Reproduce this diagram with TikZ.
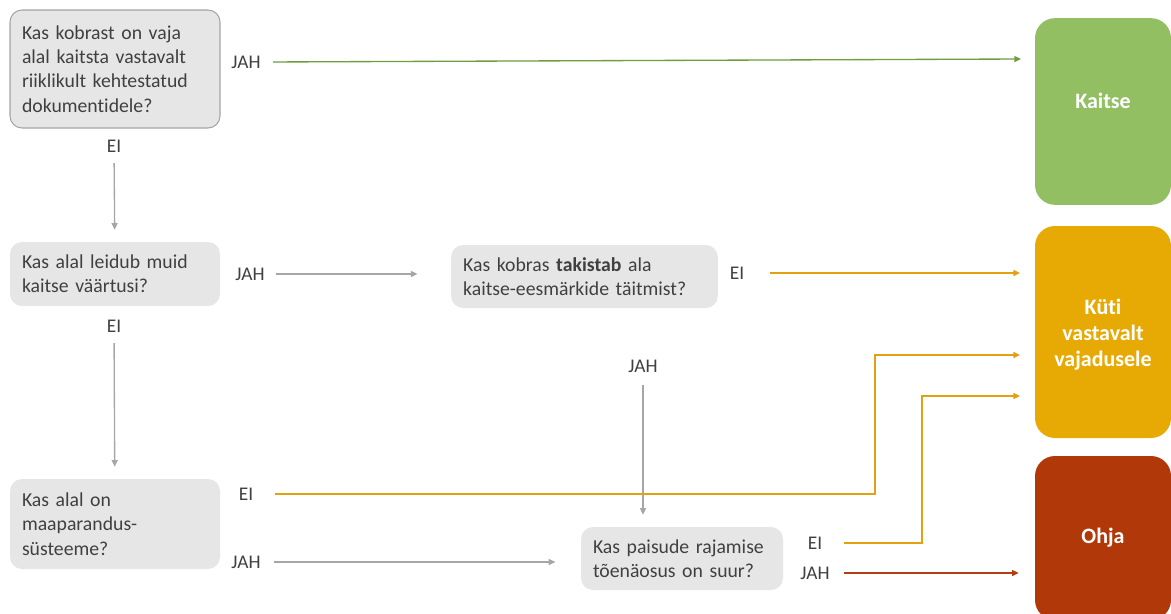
\documentclass[tikz,border=0pt]{standalone}
\usepackage{fontspec}
\setmainfont[Ligatures={NoCommon,NoContextual}]{Carlito}
\usetikzlibrary{positioning,arrows.meta}
\definecolor{qfill}{HTML}{E7E6E6}
\definecolor{qdraw}{HTML}{A5A5A5}
\definecolor{txtgray}{HTML}{404040}
\definecolor{linegray}{HTML}{A6A6A6}
\definecolor{kaitsegreen}{HTML}{93BF63}
\definecolor{linegreen}{HTML}{6F9D3F}
\definecolor{kutiorange}{HTML}{E7A904}
\definecolor{lineorange}{HTML}{E3A010}
\definecolor{ohjared}{HTML}{B13808}
\definecolor{linered}{HTML}{B43E12}
\begin{document}
\begin{tikzpicture}[x=0.75pt,y=-0.75pt,
  question/.style = {fill=qfill, rounded corners=9pt, align=left, inner sep=9pt,
    text=txtgray, font=\fontsize{14.8}{18.3}\selectfont},
  result/.style = {rounded corners=15pt, minimum width=102pt, align=center,
    text=white, font=\fontsize{16.5}{19.5}\selectfont\bfseries},
  answer/.style = {text=txtgray, font=\fontsize{14.5}{16}\selectfont, inner sep=4pt},
  link/.style = {line width=1pt, -{Triangle[length=5pt,width=4.5pt]}},
  graylink/.style = {link, draw=linegray},
  orangelink/.style = {link, draw=lineorange}
]
\useasboundingbox (0,0) rectangle (1171,614);

% kysimused
\node[question, draw=qdraw, line width=0.8pt, text width=139.5pt, minimum height=88.5pt]
  (q1) at (115,69) {Kas kobrast on vaja\\alal kaitsta vastavalt\\riiklikult kehtestatud\\dokumentidele?};
\node[question, text width=139.5pt, minimum height=48pt]
  (q2) at (115,274) {Kas alal leidub muid\\kaitse väärtusi?};
\node[question, text width=182pt, minimum height=47.25pt]
  (q3) at (584.5,276.5) {Kas kobras \textbf{takistab} ala\\kaitse-eesmärkide täitmist?};
\node[question, text width=139.5pt, minimum height=67.5pt]
  (q4) at (115,524) {Kas alal on\\maaparandus-\\süsteeme?};
\node[question, text width=133.5pt, minimum height=47.25pt]
  (q5) at (682,558.5) {Kas paisude rajamise\\tõenäosus on suur?};

% tulemused
\node[result, fill=kaitsegreen, minimum height=140pt] (kaitse) at (1103,111.5)
  {\raisebox{0pt}[\height][\dimexpr\depth+16pt]{Kaitse}};
\node[result, fill=kutiorange, minimum height=159pt] (kuti) at (1103,332)
  {\raisebox{0pt}[\dimexpr\height+4pt][\depth]{Küti}\\vastavalt\\vajadusele};
\node[result, fill=ohjared, minimum height=123pt] (ohja) at (1103,538) {Ohja};

% vastused
\node[answer] (jah1) at (246,62) {JAH};
\node[answer] (ei1) at (114,146) {EI};
\node[answer] (jah2) at (250,274) {JAH};
\node[answer] (ei2) at (114,326) {EI};
\node[answer] (ei3) at (737,273) {EI};
\node[answer] (jah3) at (643,366) {JAH};
\node[answer] (ei4) at (246,494) {EI};
\node[answer] (jah4) at (246,562) {JAH};
\node[answer] (ei5) at (815,543) {EI};
\node[answer] (jah5) at (815,573) {JAH};

\coordinate (kaitseIn) at (1021,59);
\coordinate (bendA) at (875,494);
\coordinate (bendB) at (922,543);

% seosed
\draw[link, draw=linegreen, shorten <=5pt] (jah1.east) -- (kaitseIn);
\draw[graylink, shorten <=4pt, shorten >=9pt] (ei1) -- (q2);
\draw[graylink, shorten <=4pt, shorten >=9pt] (ei2) -- (q4);
\draw[graylink, shorten <=4.5pt, shorten >=25pt] (jah2) -- (q3.west |- jah2);
\draw[graylink, shorten <=5pt, shorten >=9pt] (jah3) -- (jah3 |- q5.north);
\draw[graylink, shorten <=6pt, shorten >=19pt] (jah4) -- (q5.west |- jah4);
\draw[orangelink, shorten <=15pt, shorten >=11pt] (ei3) -- (kuti.west |- ei3);
\draw[orangelink, shorten <=12pt, shorten >=11pt] (ei4.east) -- (bendA) |- (kuti.west |- {(0,355)});
\draw[orangelink, shorten <=12.5pt, shorten >=11pt] (ei5.east) -- (bendB) |- (kuti.west |- {(0,396)});
\draw[link, draw=linered, shorten <=7pt, shorten >=12pt] (jah5.east) -- (ohja.west |- jah5);
\end{tikzpicture}
\end{document}
